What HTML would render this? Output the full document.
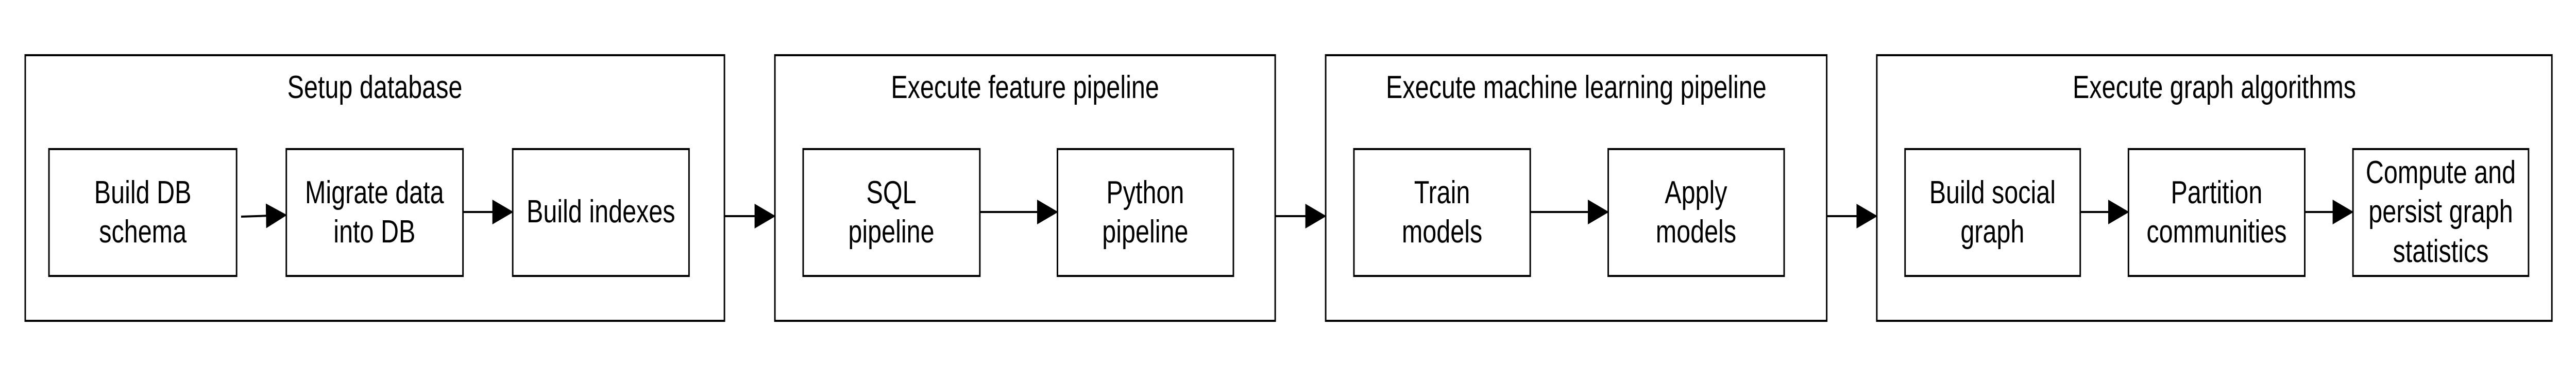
<!DOCTYPE html>
<html><head><meta charset="utf-8"><style>
html,body{margin:0;padding:0;background:#fff;width:100%;height:100%;overflow:hidden;}
svg{display:block;width:100vw;height:100vh;}
text{font-family:"Liberation Sans",Arial,sans-serif;font-size:62px;fill:#000;text-anchor:middle;}
</style></head><body>
<svg viewBox="0 0 6838 727" preserveAspectRatio="none" xmlns="http://www.w3.org/2000/svg">
<defs>
<marker id="a" markerWidth="14" markerHeight="12" refX="13" refY="6" orient="auto" markerUnits="strokeWidth">
<path d="M0,0 L14,6 L0,12 z" fill="#000"/></marker>
</defs>
<g fill="none" stroke="#000" stroke-width="4">
<rect x="67" y="107" width="1856" height="515"/>
<rect x="2057" y="107" width="1328" height="515"/>
<rect x="3519" y="107" width="1330" height="515"/>
<rect x="4982" y="107" width="1792" height="515"/>
<rect x="130" y="289" width="498" height="246"/>
<rect x="760" y="289" width="469" height="246"/>
<rect x="1361" y="289" width="468" height="246"/>
<rect x="2132" y="289" width="469" height="246"/>
<rect x="2807" y="289" width="467" height="246"/>
<rect x="3594" y="289" width="468" height="246"/>
<rect x="4269" y="289" width="467" height="246"/>
<rect x="5057" y="289" width="465" height="246"/>
<rect x="5650" y="289" width="468" height="246"/>
<rect x="6246" y="289" width="466" height="246"/>
<g marker-end="url(#a)">
<line x1="640" y1="420" x2="758" y2="417"/>
<line x1="1229" y1="411" x2="1359" y2="411"/>
<line x1="2601" y1="411" x2="2805" y2="411"/>
<line x1="4062" y1="411" x2="4267" y2="411"/>
<line x1="5522" y1="411" x2="5648" y2="411"/>
<line x1="6118" y1="411" x2="6244" y2="411"/>
<line x1="1923" y1="419" x2="2055" y2="419"/>
<line x1="3385" y1="419" x2="3517" y2="419"/>
<line x1="4849" y1="419" x2="4980" y2="419"/>
</g>
</g>
<text transform="translate(995 190) scale(1.07 1)">Setup database</text>
<text transform="translate(2721 190) scale(1.07 1)">Execute feature pipeline</text>
<text transform="translate(4184 190) scale(1.07 1)">Execute machine learning pipeline</text>
<text transform="translate(5878 190) scale(1.07 1)">Execute graph algorithms</text>
<text transform="translate(379 394) scale(1.07 1)">Build DB</text><text transform="translate(379 470) scale(1.07 1)">schema</text>
<text transform="translate(994 394) scale(1.07 1)">Migrate data</text><text transform="translate(994 470) scale(1.07 1)">into DB</text>
<text transform="translate(1595 431) scale(1.07 1)">Build indexes</text>
<text transform="translate(2366 394) scale(1.07 1)">SQL</text><text transform="translate(2366 470) scale(1.07 1)">pipeline</text>
<text transform="translate(3040 394) scale(1.07 1)">Python</text><text transform="translate(3040 470) scale(1.07 1)">pipeline</text>
<text transform="translate(3828 394) scale(1.07 1)">Train</text><text transform="translate(3828 470) scale(1.07 1)">models</text>
<text transform="translate(4502 394) scale(1.07 1)">Apply</text><text transform="translate(4502 470) scale(1.07 1)">models</text>
<text transform="translate(5289 394) scale(1.07 1)">Build social</text><text transform="translate(5289 470) scale(1.07 1)">graph</text>
<text transform="translate(5884 394) scale(1.07 1)">Partition</text><text transform="translate(5884 470) scale(1.07 1)">communities</text>
<text transform="translate(6479 355) scale(1.07 1)">Compute and</text><text transform="translate(6479 431) scale(1.07 1)">persist graph</text><text transform="translate(6479 508) scale(1.07 1)">statistics</text>
</svg>
</body></html>
